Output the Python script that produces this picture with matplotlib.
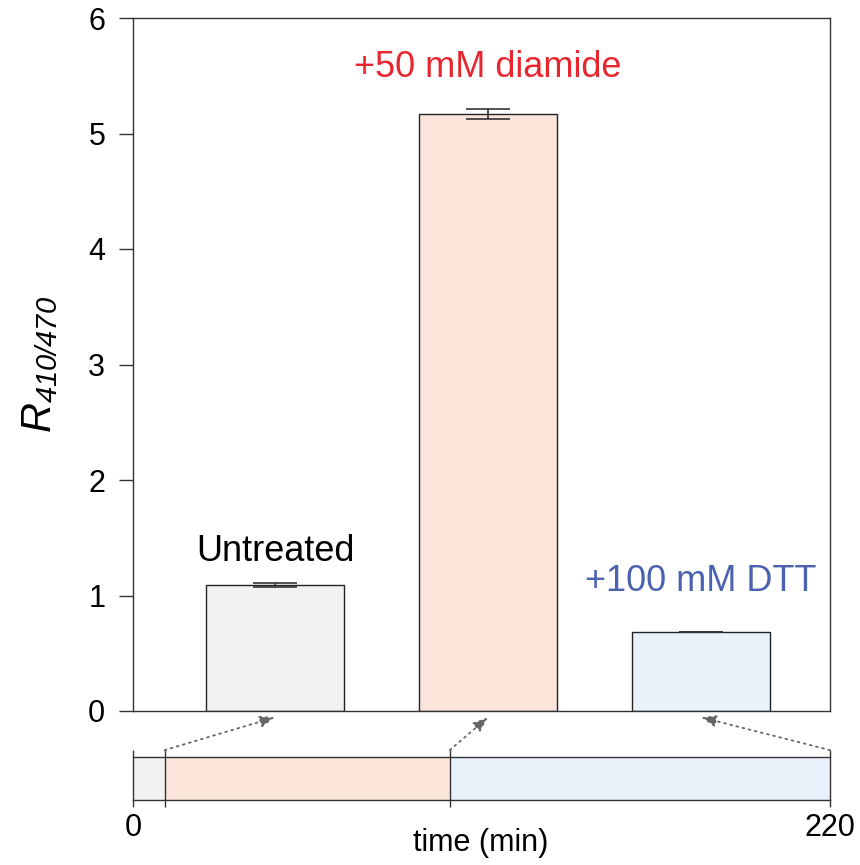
import matplotlib
matplotlib.use("Agg")
import matplotlib.pyplot as plt

plt.rcParams['font.family'] = ['Liberation Sans', 'DejaVu Sans']
plt.rcParams['mathtext.fontset'] = 'custom'
plt.rcParams['mathtext.it'] = 'Liberation Sans:italic'
plt.rcParams['mathtext.rm'] = 'Liberation Sans:italic'
plt.rcParams['mathtext.default'] = 'it'

# Data
categories = ["Untreated", "+50 mM diamide", "+100 mM DTT"]
values = [1.09, 5.17, 0.684]
errors = [0.019, 0.043, 0.003]
bar_colors = ["#f2f2f2", "#fce6dc", "#e9f1fb"]
label_colors = ["#000000", "#e8262d", "#4a62b0"]
label_y = [1.38, 5.57, 1.12]

# timeline segments (min)
seg_starts = [0, 10, 100]
seg_ends = [10, 100, 220]
seg_colors = ["#f2f2f2", "#fce6dc", "#e9f1fb"]
arrow_sources = [10, 100, 220]
timeline_ticks = [0, 220]

W, H = 860, 865
fig = plt.figure(figsize=(W / 100, H / 100), dpi=100)
ax = fig.add_axes([133 / W, (H - 711) / H, 697 / W, 693 / H])
axt = fig.add_axes([133 / W, (H - 800) / H, 697 / W, 43 / H])

spine_c = "#333333"
pos = list(range(len(values)))
ax.bar(pos, values, width=0.65, color=bar_colors, edgecolor="#222222", linewidth=1.0, zorder=2)
ax.errorbar(pos, values, yerr=errors, fmt="none", ecolor="#333333", elinewidth=1.2,
            capsize=16, capthick=1.2, zorder=3)
for p, lab, c, yy in zip(pos, categories, label_colors, label_y):
    ax.text(p, yy, lab, color=c, fontsize=26, ha="center", va="center")

ax.set_xlim(-0.667, 2.606)
ax.set_ylim(0, 6)
ax.set_yticks(range(0, 7))
ax.set_xticks([])
ax.tick_params(axis="y", direction="out", length=10, width=1.0, color=spine_c,
               labelsize=22, pad=10)
for s in ax.spines.values():
    s.set_color(spine_c)
    s.set_linewidth(1.0)
ax.set_ylabel(r"$R_{410/470}$", fontsize=30, labelpad=20)

# Timeline
for a, b, c in zip(seg_starts, seg_ends, seg_colors):
    axt.barh(0.5, b - a, left=a, height=1.0, color=c, edgecolor="none", zorder=1)
axt.set_xlim(0, 220)
axt.set_ylim(0, 1)
axt.set_yticks([])
axt.set_xticks(timeline_ticks)
axt.tick_params(axis="x", length=0, labelsize=22, pad=9)
for s in ["left", "right"]:
    axt.spines[s].set_visible(False)
for s in ["top", "bottom"]:
    axt.spines[s].set_color(spine_c)
    axt.spines[s].set_linewidth(1.0)
trans = axt.get_xaxis_transform()
bounds = sorted(set(seg_starts + seg_ends))
axt.vlines(bounds, -0.16, 1.16, transform=trans, colors=spine_c, linewidth=1.0, clip_on=False, zorder=3)
fig.text(481 / W, 1 - 843 / H, "time (min)", fontsize=22, ha="center", va="center")

# Arrows from timeline to bars
for src, p in zip(arrow_sources, pos):
    ax.annotate("", xy=(p, -0.009), xycoords=ax.get_xaxis_transform(),
                xytext=(src, 1.16), textcoords=axt.get_xaxis_transform(),
                arrowprops=dict(arrowstyle="-|>,head_length=0.9,head_width=0.35",
                                linestyle=(0, (1, 2.5)), color="#666666", linewidth=1.3,
                                shrinkA=0, shrinkB=0),
                annotation_clip=False)

fig.savefig("out.png", dpi=100)
